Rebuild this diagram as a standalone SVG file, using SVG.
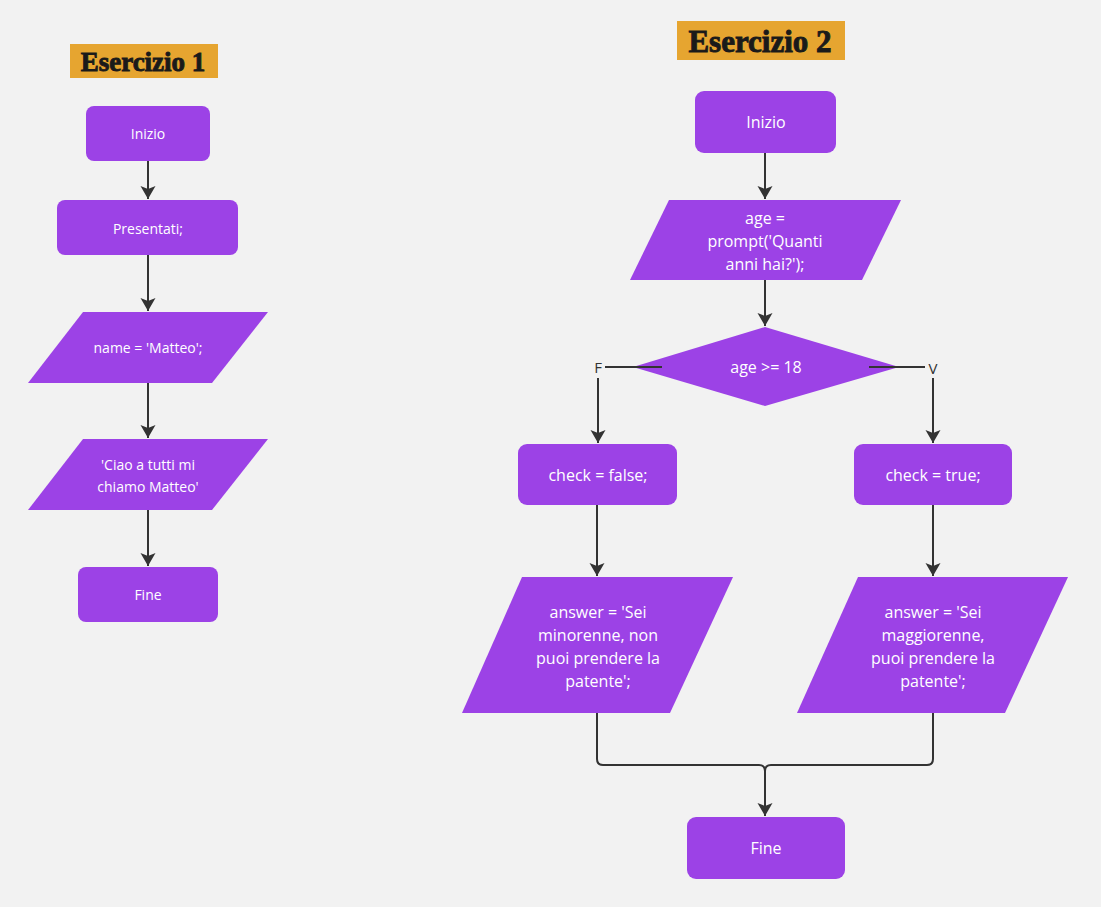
<svg xmlns="http://www.w3.org/2000/svg" width="1101" height="907" viewBox="0 0 1101 907">
<defs>
<marker id="arr" markerUnits="userSpaceOnUse" markerWidth="16" markerHeight="18" viewBox="-14 -9 16 18" refX="0" refY="0" orient="auto">
<path d="M0,0 L-13,-7.5 L-10,0 L-13,7.5 Z" fill="#333333"/>
</marker>
<style>
.n{fill:#9c42e6;}
.t{font-family:"Open Sans","Noto Sans",sans-serif;fill:#ffffff;text-anchor:middle;dominant-baseline:central;}
.s{font-size:14px;}
.m{font-size:16px;}
.h{font-family:"Liberation Serif",serif;font-weight:bold;fill:#1a1a1a;stroke:#1a1a1a;stroke-width:0.9;text-anchor:middle;dominant-baseline:central;}
.c{fill:none;stroke:#333333;stroke-width:2;}
.l{font-family:"Open Sans","Noto Sans",sans-serif;font-size:15px;fill:#333333;text-anchor:middle;dominant-baseline:central;}
</style>
</defs>
<rect width="1101" height="907" fill="#f2f2f2"/>

<g id="title1"><rect x="70" y="44" width="148" height="34" fill="#e6a530"/><text class="h" x="143" y="62" font-size="27">Esercizio 1</text></g>
<g id="title2"><rect x="677" y="21" width="168" height="39" fill="#e6a530"/><text class="h" x="760" y="41" font-size="31">Esercizio 2</text></g>

<g id="inizio1"><rect class="n" x="86" y="106" width="124" height="55" rx="8"/><text class="t s" x="148" y="133">Inizio</text></g>
<g id="presentati"><rect class="n" x="57" y="200" width="181" height="55" rx="8"/><text class="t s" x="148" y="228">Presentati;</text></g>
<g id="name"><polygon class="n" points="83,312 268,312 212,383 28,383"/><text class="t s" x="148" y="347">name = 'Matteo';</text></g>
<g id="ciao"><polygon class="n" points="83,439 268,439 212,510 28,510"/><text class="t s" x="148" y="464">'Ciao a tutti mi</text><text class="t s" x="148" y="486">chiamo Matteo'</text></g>
<g id="fine1"><rect class="n" x="78" y="567" width="140" height="55" rx="8"/><text class="t s" x="148" y="594">Fine</text></g>

<g id="inizio2"><rect class="n" x="695" y="91" width="141" height="62" rx="9"/><text class="t m" x="766" y="122">Inizio</text></g>
<g id="prompt"><polygon class="n" points="669,200 901,200 862,280 630,280"/><text class="t m" x="765" y="218">age =</text><text class="t m" x="765" y="241">prompt('Quanti</text><text class="t m" x="765" y="264">anni hai?');</text></g>
<g id="decision"><polygon class="n" points="765,327 899,367 765,406 633,367"/><text class="t m" x="766" y="367">age &gt;= 18</text></g>
<g id="checkfalse"><rect class="n" x="518" y="444" width="159" height="61" rx="9"/><text class="t m" x="598" y="475">check = false;</text></g>
<g id="checktrue"><rect class="n" x="854" y="444" width="158" height="61" rx="9"/><text class="t m" x="933" y="475">check = true;</text></g>
<g id="answerF"><polygon class="n" points="522,577 733,577 670,713 462,713"/><text class="t m" x="598" y="612">answer = 'Sei</text><text class="t m" x="598" y="635">minorenne, non</text><text class="t m" x="598" y="658">puoi prendere la</text><text class="t m" x="598" y="681">patente';</text></g>
<g id="answerV"><polygon class="n" points="858,577 1068,577 1005,713 797,713"/><text class="t m" x="933" y="612">answer = 'Sei</text><text class="t m" x="933" y="635">maggiorenne,</text><text class="t m" x="933" y="658">puoi prendere la</text><text class="t m" x="933" y="681">patente';</text></g>
<g id="fine2"><rect class="n" x="687" y="817" width="158" height="62" rx="9"/><text class="t m" x="766" y="848">Fine</text></g>

<g id="connectors">
<path class="c" d="M148 161 V199" marker-end="url(#arr)"/>
<path class="c" d="M148 255 V311" marker-end="url(#arr)"/>
<path class="c" d="M148 383 V438" marker-end="url(#arr)"/>
<path class="c" d="M148 510 V566" marker-end="url(#arr)"/>

<path class="c" d="M765 153 V199" marker-end="url(#arr)"/>
<path class="c" d="M765 280 V326" marker-end="url(#arr)"/>
<path class="c" d="M662 367 H605"/>
<path class="c" d="M598 378 V443" marker-end="url(#arr)"/>
<path class="c" d="M869 367 H925"/>
<path class="c" d="M933 378 V443" marker-end="url(#arr)"/>
<path class="c" d="M597 505 V576" marker-end="url(#arr)"/>
<path class="c" d="M933 505 V576" marker-end="url(#arr)"/>
<path class="c" d="M597 713 V759 Q597 765 603 765 H759 Q765 765 765 771 V816" marker-end="url(#arr)"/>
<path class="c" d="M933 713 V759 Q933 765 927 765 H771 Q765 765 765 771"/>
<text class="l" x="598" y="367">F</text>
<text class="l" x="933" y="368">V</text>
</g>
</svg>
